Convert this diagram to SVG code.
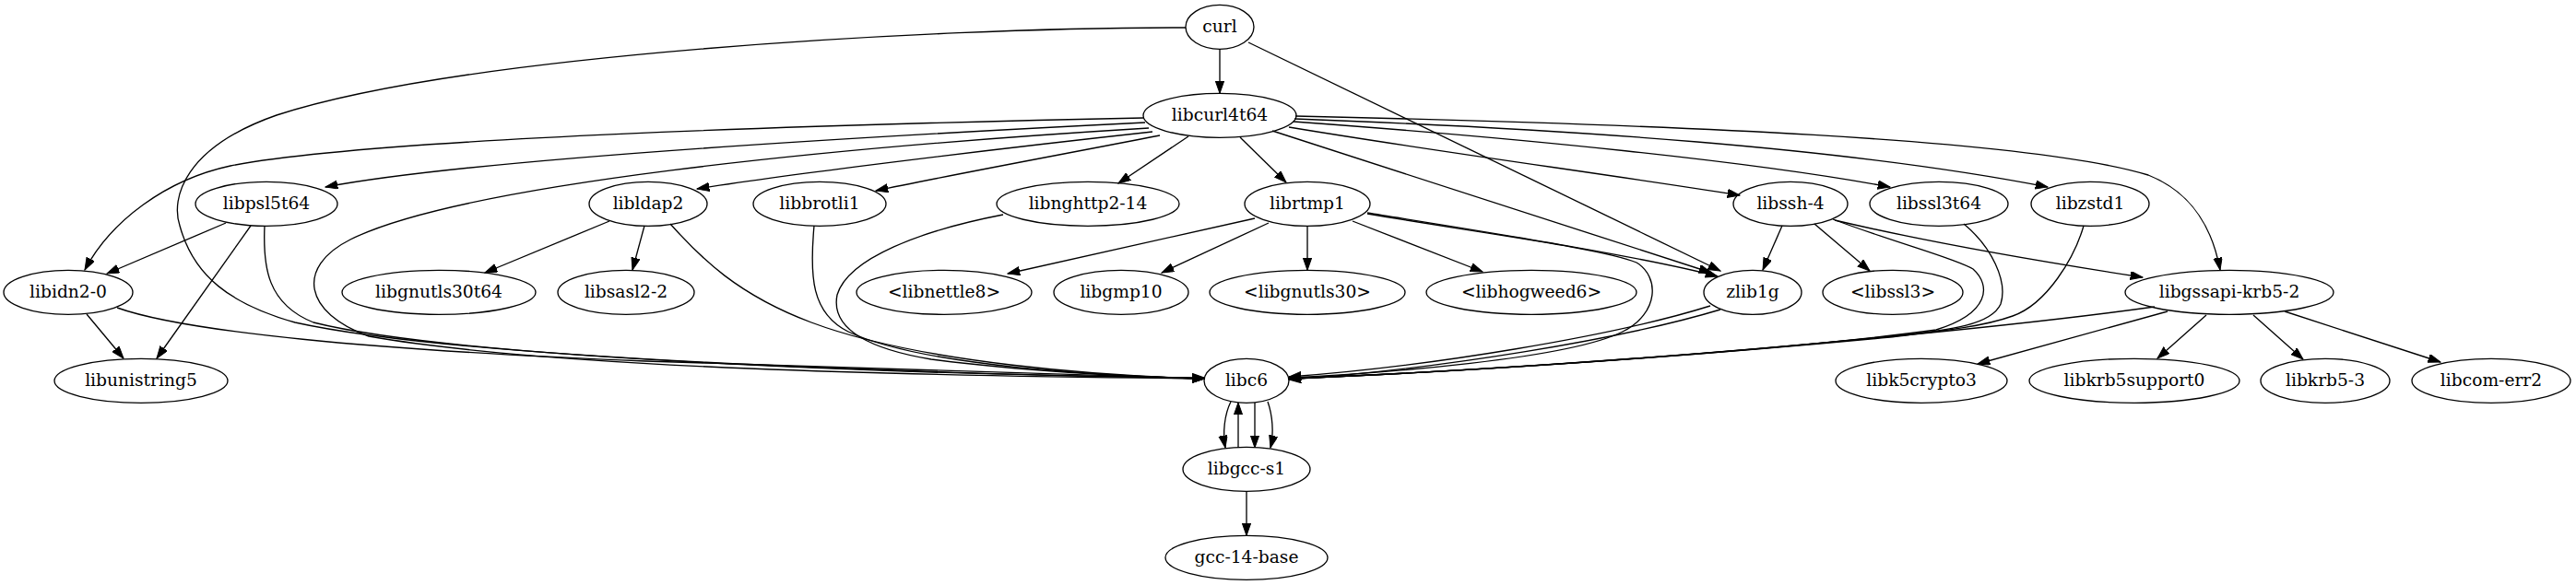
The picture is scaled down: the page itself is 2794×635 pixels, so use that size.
<svg xmlns="http://www.w3.org/2000/svg" width="2794" height="635" viewBox="0 0 2794 635">
<defs>
<style>
.n ellipse{fill:none;stroke:#000;stroke-width:1.33}
.n text{font-family:"DejaVu Serif","Liberation Serif",serif;font-size:18.67px;text-anchor:middle;fill:#000}
#edges path{fill:none;stroke:#000;stroke-width:1.33;marker-end:url(#arr)}
</style>
<marker id="arr" markerUnits="userSpaceOnUse" markerWidth="14" markerHeight="10" refX="13.3" refY="4.67" orient="auto">
<path d="M0,0 L13.3,4.67 L0,9.33 z" fill="#000" stroke="#000" stroke-width="1"/>
</marker>
</defs>
<rect width="2794" height="635" fill="#fff"/>
<g id="edges">
<path d="M1323,53.3 L1323,101.3"/>
<path d="M1286,30 C1000,30 500,60 300,125 C200,160 185,215 195,245 C210,300 250,330 320,350 C500,390 1000,405 1306,411"/>
<path d="M1354,46 L1866,294"/>
<path d="M1240,128 C900,135 400,150 250,180 C180,195 120,240 92,293"/>
<path d="M1242,133 C900,150 500,175 353,203"/>
<path d="M1246,139 C900,160 500,200 380,260 C320,290 330,340 400,365 C600,400 1000,408 1306,411"/>
<path d="M1250,143 C1050,165 850,190 756,205"/>
<path d="M1258,147 C1150,168 1020,192 950,207"/>
<path d="M1289,148 L1213,199"/>
<path d="M1345,149 L1395,198"/>
<path d="M1380,142 L1856,296"/>
<path d="M1398,138 C1560,165 1750,190 1887,212"/>
<path d="M1403,132 C1650,150 1900,175 2050,203"/>
<path d="M1404,129 C1700,140 2000,160 2221,203"/>
<path d="M1405,126 C1800,135 2200,150 2330,190 C2380,210 2400,250 2408,293"/>
<path d="M245,242 L116,297"/>
<path d="M272,245 L170,389"/>
<path d="M287,245 C285,290 290,330 340,350 C500,390 1000,407 1306,410"/>
<path d="M661,240 L526,296"/>
<path d="M699,245 L686,293"/>
<path d="M727,243 C760,280 800,320 880,350 C1000,395 1200,408 1306,411"/>
<path d="M883,245 C878,300 880,340 920,360 C1000,398 1200,408 1306,411"/>
<path d="M1088,233 C1000,250 920,280 908,320 C900,360 950,380 1010,390 C1100,402 1220,409 1306,411"/>
<path d="M1361,237 L1093,297"/>
<path d="M1376,242 L1260,296"/>
<path d="M1418,245.3 L1418,293.3"/>
<path d="M1467,240 L1608,295"/>
<path d="M1483,231 C1600,250 1780,278 1863,300"/>
<path d="M1483,232 C1600,252 1740,270 1775,285 C1800,300 1800,340 1760,360 C1700,390 1500,405 1398,410"/>
<path d="M1933,245 L1912,293"/>
<path d="M1968,243 L2028,294"/>
<path d="M1990,239 C2100,265 2220,285 2324,301"/>
<path d="M1988,238 C2060,265 2120,280 2140,292 C2160,310 2158,340 2100,358 C1900,385 1550,405 1398,411"/>
<path d="M2130,243 C2160,268 2178,305 2170,330 C2160,352 2120,358 2050,365 C1800,390 1550,405 1398,411"/>
<path d="M2260,245 C2250,280 2220,330 2183,343 C2150,355 2100,360 2050,366 C1800,390 1550,405 1398,411"/>
<path d="M94,341 L134,389"/>
<path d="M127,334 C200,360 400,380 700,392 C1000,402 1200,408 1306,411"/>
<path d="M1855,332 C1750,365 1550,398 1398,409"/>
<path d="M1866,336 C1760,368 1560,401 1398,412"/>
<path d="M2337,333 C2200,352 1800,395 1398,411"/>
<path d="M2351,338 L2145,395"/>
<path d="M2393,342 L2340,389"/>
<path d="M2444,342 L2498,390"/>
<path d="M2478,338 L2647,393"/>
<path d="M1335,436 C1328,450 1326,470 1329,486"/>
<path d="M1343,486 L1343,437"/>
<path d="M1361,437 L1361,486"/>
<path d="M1375,436 C1380,450 1382,470 1378,486"/>
<path d="M1352,533.3 L1352,581.3"/>
</g>
<g id="curl" class="n"><ellipse cx="1323" cy="29.3" rx="37" ry="24"/><text x="1323" y="35.3">curl</text></g>
<g id="libcurl4t64" class="n"><ellipse cx="1323" cy="125.3" rx="83" ry="24"/><text x="1323" y="131.3">libcurl4t64</text></g>
<g id="libpsl5t64" class="n"><ellipse cx="289" cy="221.3" rx="77" ry="24"/><text x="289" y="227.3">libpsl5t64</text></g>
<g id="libldap2" class="n"><ellipse cx="703" cy="221.3" rx="64" ry="24"/><text x="703" y="227.3">libldap2</text></g>
<g id="libbrotli1" class="n"><ellipse cx="889" cy="221.3" rx="72" ry="24"/><text x="889" y="227.3">libbrotli1</text></g>
<g id="libnghttp2-14" class="n"><ellipse cx="1180" cy="221.3" rx="99" ry="24"/><text x="1180" y="227.3">libnghttp2-14</text></g>
<g id="librtmp1" class="n"><ellipse cx="1418" cy="221.3" rx="68" ry="24"/><text x="1418" y="227.3">librtmp1</text></g>
<g id="libssh-4" class="n"><ellipse cx="1942" cy="221.3" rx="62" ry="24"/><text x="1942" y="227.3">libssh-4</text></g>
<g id="libssl3t64" class="n"><ellipse cx="2103" cy="221.3" rx="75" ry="24"/><text x="2103" y="227.3">libssl3t64</text></g>
<g id="libzstd1" class="n"><ellipse cx="2267" cy="221.3" rx="64" ry="24"/><text x="2267" y="227.3">libzstd1</text></g>
<g id="libidn2-0" class="n"><ellipse cx="74" cy="317.3" rx="70" ry="24"/><text x="74" y="323.3">libidn2-0</text></g>
<g id="libgnutls30t64" class="n"><ellipse cx="476" cy="317.3" rx="105" ry="24"/><text x="476" y="323.3">libgnutls30t64</text></g>
<g id="libsasl2-2" class="n"><ellipse cx="679" cy="317.3" rx="74" ry="24"/><text x="679" y="323.3">libsasl2-2</text></g>
<g id="libnettle8" class="n"><ellipse cx="1024" cy="317.3" rx="95" ry="24"/><text x="1024" y="323.3">&lt;libnettle8&gt;</text></g>
<g id="libgmp10" class="n"><ellipse cx="1216" cy="317.3" rx="73" ry="24"/><text x="1216" y="323.3">libgmp10</text></g>
<g id="libgnutls30" class="n"><ellipse cx="1418" cy="317.3" rx="106" ry="24"/><text x="1418" y="323.3">&lt;libgnutls30&gt;</text></g>
<g id="libhogweed6" class="n"><ellipse cx="1661" cy="317.3" rx="114" ry="24"/><text x="1661" y="323.3">&lt;libhogweed6&gt;</text></g>
<g id="zlib1g" class="n"><ellipse cx="1901" cy="317.3" rx="53" ry="24"/><text x="1901" y="323.3">zlib1g</text></g>
<g id="libssl3" class="n"><ellipse cx="2053" cy="317.3" rx="76" ry="24"/><text x="2053" y="323.3">&lt;libssl3&gt;</text></g>
<g id="libgssapi-krb5-2" class="n"><ellipse cx="2418" cy="317.3" rx="113" ry="24"/><text x="2418" y="323.3">libgssapi-krb5-2</text></g>
<g id="libunistring5" class="n"><ellipse cx="153" cy="413.3" rx="94" ry="24"/><text x="153" y="419.3">libunistring5</text></g>
<g id="libc6" class="n"><ellipse cx="1352" cy="413.3" rx="46" ry="24"/><text x="1352" y="419.3">libc6</text></g>
<g id="libk5crypto3" class="n"><ellipse cx="2084" cy="413.3" rx="93" ry="24"/><text x="2084" y="419.3">libk5crypto3</text></g>
<g id="libkrb5support0" class="n"><ellipse cx="2315" cy="413.3" rx="114" ry="24"/><text x="2315" y="419.3">libkrb5support0</text></g>
<g id="libkrb5-3" class="n"><ellipse cx="2522" cy="413.3" rx="70" ry="24"/><text x="2522" y="419.3">libkrb5-3</text></g>
<g id="libcom-err2" class="n"><ellipse cx="2702" cy="413.3" rx="86" ry="24"/><text x="2702" y="419.3">libcom-err2</text></g>
<g id="libgcc-s1" class="n"><ellipse cx="1352" cy="509.3" rx="69" ry="24"/><text x="1352" y="515.3">libgcc-s1</text></g>
<g id="gcc-14-base" class="n"><ellipse cx="1352" cy="605.3" rx="88" ry="24"/><text x="1352" y="611.3">gcc-14-base</text></g>
</svg>
